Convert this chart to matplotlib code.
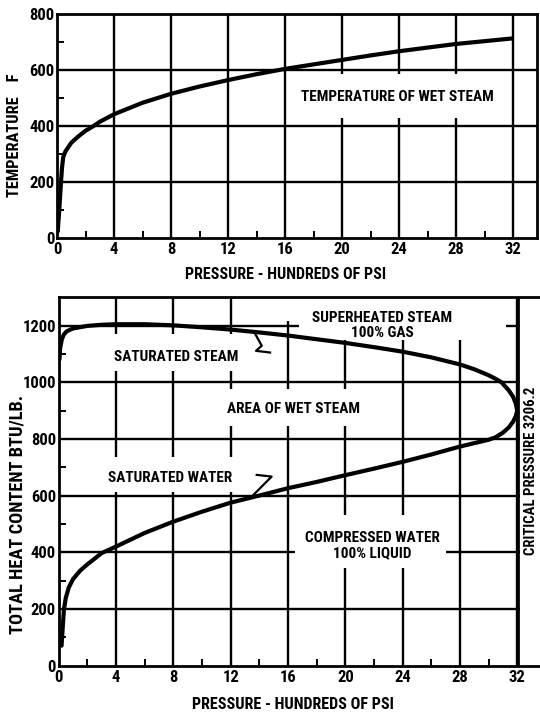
import matplotlib
matplotlib.use("Agg")
import matplotlib.pyplot as plt
import matplotlib.font_manager as fm
from matplotlib.patches import Rectangle
from matplotlib.ticker import FixedLocator

# ---------------- data ----------------
# Top chart: temperature of wet steam (F) vs pressure (hundreds of psi)
temp_pressure = [0.05, 0.1, 0.16, 0.22, 0.28, 0.35, 0.44, 0.6, 1, 1.5, 2, 2.57, 3, 4, 6, 8,
                 10, 12, 14, 16, 18, 20, 22, 24, 26, 28, 30, 32]
temp_values = [20, 60, 100, 150, 200, 250, 290, 310, 340, 363, 383, 400, 415, 442, 483, 515,
               541, 564, 585, 604, 620, 636, 652, 667, 680, 693, 703, 713]

# Bottom chart: total heat content (BTU/lb)
water_pressure = [0.2, 0.25, 0.3, 0.37, 0.5, 0.7, 1, 1.5, 2, 3, 4, 6, 8, 10, 12, 14, 16, 18,
                  20, 22, 24, 26, 28, 29, 30, 30.5, 31, 31.4, 31.7, 31.9, 32.0]
water_heat = [70, 110, 150, 200, 240, 275, 305, 335, 357, 397, 420, 468, 508, 543, 575, 600,
              626, 648, 672, 695, 719, 745, 773, 785, 797, 806, 822, 840, 860, 880, 900]

steam_pressure = [0.05, 0.1, 0.21, 0.35, 0.56, 1, 2, 3, 4, 6, 8, 10, 12, 14, 16, 18, 20, 22,
                  24, 26, 28, 29, 30, 30.5, 30.9, 31.4, 31.7, 31.9, 32.0]
steam_heat = [1080, 1120, 1150, 1168, 1180, 1190, 1199, 1203, 1205, 1205, 1201, 1194, 1186,
              1176, 1165, 1152, 1139, 1124, 1108, 1088, 1063, 1046, 1025, 1012, 1000, 972,
              950, 925, 900]

critical_pressure = 32.062  # 3206.2 psi

x_ticks = [0, 4, 8, 12, 16, 20, 24, 28, 32]
top_y_ticks = [0, 200, 400, 600, 800]
bottom_y_ticks = [0, 200, 400, 600, 800, 1000, 1200]

# pointer polylines (data coords) for the curve labels
steam_pointer_x = [13.7, 14.17, 13.77, 14.75]
steam_pointer_y = [1172, 1129, 1111, 1105]
water_pointer_x = [13.82, 14.86, 13.70, 13.47]
water_pointer_y = [673, 667, 608, 596]

# ---------------- fonts: prefer a condensed / narrow bold face ----------------
ttf = fm.fontManager.ttflist


def wnum(w):
    if isinstance(w, (int, float)):
        return int(w)
    return fm.weight_dict.get(str(w), 400)


def has_bold(name):
    return any(f.name == name and wnum(f.weight) >= 600 for f in ttf)


names = {f.name for f in ttf}
FAM, STRETCH, SCALE = None, "normal", 1.0
for cand in ["Liberation Sans Narrow", "Roboto Condensed", "Open Sans Condensed",
             "Noto Sans Condensed", "Lato Condensed"]:
    if cand in names and has_bold(cand):
        FAM = cand
        break
if FAM is None:
    cond = [f for f in ttf if str(f.stretch) in ("condensed", "semi-condensed",
                                                 "extra-condensed", "ultra-condensed")
            or (isinstance(f.stretch, int) and f.stretch < 500)]
    condb = [f for f in cond if wnum(f.weight) >= 600]
    pick = condb or cond
    if pick:
        FAM = pick[0].name
        STRETCH = "condensed"
if FAM is None:
    FAM = "Roboto" if "Roboto" in names else "DejaVu Sans"
    SCALE = 0.86
plt.rcParams["font.family"] = [FAM, "DejaVu Sans"]
plt.rcParams["font.stretch"] = STRETCH
plt.rcParams["font.weight"] = "heavy"
WT = "heavy"

W, H = 540, 714
fig = plt.figure(figsize=(W / 100, H / 100), dpi=100)
fig.patch.set_facecolor("white")

GRID_LW = 1.7
SPINE_LW = 2.0
CURVE_LW = 3.0
LBL = 11.0 * SCALE
TCK = 12.0 * SCALE


def px_axes(left, right, top, bottom):
    return fig.add_axes([left / W, 1 - bottom / H, (right - left) / W, (bottom - top) / H])


def style_axes(ax, xmax, ymax, yticks, minor_y):
    ax.set_xlim(0, xmax)
    ax.set_ylim(0, ymax)
    ax.set_axisbelow(True)
    ax.xaxis.set_major_locator(FixedLocator(x_ticks))
    ax.yaxis.set_major_locator(FixedLocator(yticks))
    ax.xaxis.set_minor_locator(FixedLocator([2, 6, 10, 14, 18, 22, 26, 30]))
    ax.yaxis.set_minor_locator(FixedLocator(minor_y))
    ax.tick_params(which="major", length=0, labelsize=TCK)
    ax.tick_params(which="minor", direction="in", length=5, width=1.4, color="black")
    ax.tick_params(axis="x", which="major", pad=3)
    ax.tick_params(axis="y", which="major", pad=2)
    for t in ax.get_xticklabels() + ax.get_yticklabels():
        t.set_fontweight(WT)
    for s in ax.spines.values():
        s.set_linewidth(SPINE_LW)
        s.set_color("black")
    for v in x_ticks[1:]:
        ax.axvline(v, color="black", lw=GRID_LW, zorder=0.6)
    for v in yticks[1:]:
        if v < ymax:
            ax.axhline(v, color="black", lw=GRID_LW, zorder=0.6)


def mask(ax, x0, x1, y0, y1):
    ax.add_patch(Rectangle((x0, y0), x1 - x0, y1 - y0, facecolor="white",
                           edgecolor="none", zorder=1.0))


# ---------------- top chart ----------------
ax1 = px_axes(57, 537, 14, 238)
style_axes(ax1, 33.68, 800, top_y_ticks, [100, 300, 500, 700])
ax1.plot(temp_pressure, temp_values, color="black", lw=CURVE_LW,
         solid_capstyle="butt", zorder=3)
mask(ax1, 17.2, 31.6, 428, 585)
ax1.text(23.9, 502, "TEMPERATURE OF WET STEAM", ha="center", va="center",
         fontsize=LBL, fontweight=WT, zorder=4)
ax1.set_xlabel("PRESSURE - HUNDREDS OF PSI", fontsize=11.5 * SCALE, fontweight=WT)
ax1.xaxis.set_label_coords(0.476, -0.165)
ax1.xaxis.label.set_verticalalignment("center")
ax1.set_ylabel("TEMPERATURE    F", fontsize=11.8 * SCALE, fontweight=WT)
ax1.yaxis.set_label_coords(-0.088, 0.458)
ax1.yaxis.label.set_verticalalignment("center")

# ---------------- bottom chart ----------------
ax2 = px_axes(58.7, 540, 297.3, 665.5)
style_axes(ax2, 33.59, 1300, bottom_y_ticks,
           [100, 300, 500, 700, 900, 1100])
ax2.spines["right"].set_visible(False)
ax2.plot(water_pressure, water_heat, color="black", lw=CURVE_LW,
         solid_capstyle="round", zorder=3)
ax2.plot(steam_pressure, steam_heat, color="black", lw=CURVE_LW,
         solid_capstyle="round", zorder=3)

# white areas behind labels (gridlines are interrupted there)
mask(ax2, 15.8, 31.2, 1215, 1300)
mask(ax2, 16.8, 31.2, 1150, 1215)
mask(ax2, 3.0, 13.0, 1040, 1170)
mask(ax2, 11.0, 21.5, 845, 975)
mask(ax2, 2.5, 13.0, 612, 735)
mask(ax2, 16.5, 27.0, 345, 530)
mask(ax2, 32.2, 33.59, 0, 1300)

ax2.axvline(critical_pressure, color="black", lw=GRID_LW + 0.3, zorder=2)

label_kw = dict(ha="center", va="center", fontsize=LBL, fontweight=WT, zorder=4)
ax2.text(22.6, 1200, "SUPERHEATED STEAM\n100% GAS", linespacing=1.05, **label_kw)
ax2.text(8.2, 1088, "SATURATED STEAM", **label_kw)
ax2.text(16.4, 906, "AREA OF WET STEAM", **label_kw)
ax2.text(7.8, 663, "SATURATED WATER", **label_kw)
ax2.text(21.9, 423, "COMPRESSED WATER\n100% LIQUID", linespacing=1.05, **label_kw)
ax2.text(32.95, 686, "CRITICAL PRESSURE 3206.2", rotation=90, ha="center", va="center",
         fontsize=10.6 * SCALE, fontweight=WT, zorder=4)

ax2.plot(steam_pointer_x, steam_pointer_y, color="black", lw=1.6, zorder=3)
ax2.plot(water_pointer_x, water_pointer_y, color="black", lw=1.6, zorder=3)

ax2.set_xlabel("PRESSURE - HUNDREDS OF PSI", fontsize=11.6 * SCALE, fontweight=WT)
ax2.xaxis.set_label_coords(0.487, -0.106)
ax2.xaxis.label.set_verticalalignment("center")
ax2.set_ylabel("TOTAL HEAT CONTENT BTU/LB.", fontsize=13.2 * SCALE, fontweight=WT)
ax2.yaxis.set_label_coords(-0.085, 0.411)
ax2.yaxis.label.set_verticalalignment("center")

fig.savefig("out.png", dpi=100, facecolor="white")
